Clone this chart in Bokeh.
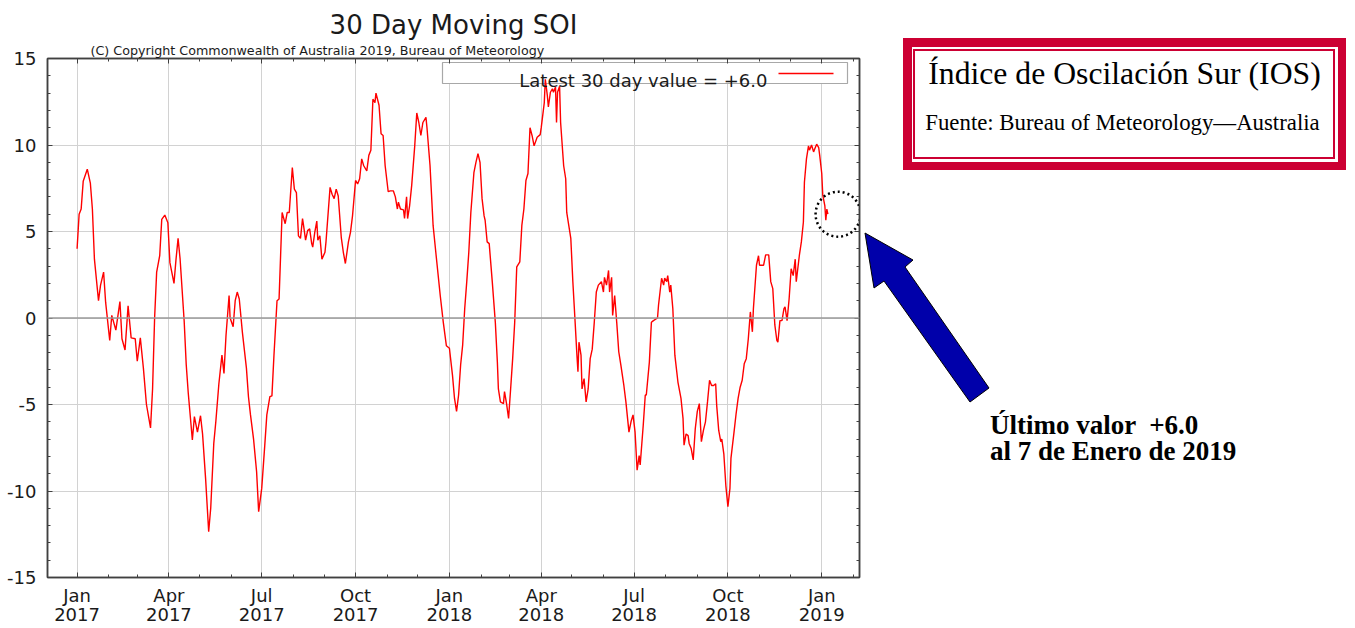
import pandas as pd
from bokeh.plotting import figure
from bokeh.layouts import row
from bokeh.models import Range1d, FixedTicker, LinearAxis, CustomJSTickFormatter, Span, Title, Div
from bokeh.core.properties import value
from bokeh.embed import file_html
from bokeh.resources import INLINE

# ---------------- data ----------------
series_start = "2017-01-01"
# day offsets from series_start
day_offset = [
    0, 2, 4, 6, 10, 13, 15, 17, 21, 23, 26, 28, 32, 34, 38, 42, 44, 47, 50, 53,
    57, 59, 62, 65, 68, 72, 74, 76, 78, 81, 83, 86, 89, 91, 95, 97, 99, 101, 105, 107,
    109, 113, 115, 118, 121, 123, 126, 129, 131, 134, 136, 139, 142, 144, 146, 149, 150, 153, 155, 157,
    159, 162, 166, 168, 170, 173, 176, 178, 181, 184, 186, 189, 191, 193, 196, 198, 201, 204, 206, 208,
    211, 213, 215, 217, 219, 221, 222, 224, 226, 228, 230, 231, 233, 235, 236, 238, 240, 243, 244, 248,
    250, 252, 254, 256, 259, 261, 263, 266, 268, 270, 273, 275, 277, 279, 281, 284, 286, 288, 290, 292,
    293, 296, 298, 300, 302, 305, 307, 310, 312, 314, 315, 317, 320, 321, 323, 324, 326, 328, 331, 333,
    335, 337, 339, 342, 343, 346, 349, 352, 356, 359, 362, 365, 368, 370, 372, 374, 376, 378, 380, 382,
    384, 386, 389, 391, 393, 395, 397, 399, 400, 402, 404, 407, 410, 412, 413, 415, 418, 419, 421, 423,
    425, 427, 429, 431, 434, 436, 438, 440, 442, 444, 446, 448, 451, 454, 455, 458, 459, 461, 462, 464,
    466, 467, 469, 470, 471, 473, 474, 477, 479, 480, 482, 484, 486, 488, 490, 491, 492, 494, 495, 497,
    499, 501, 503, 505, 507, 509, 511, 514, 516, 517, 519, 521, 522, 524, 525, 527, 529, 531, 533, 536,
    538, 541, 543, 545, 547, 549, 551, 552, 555, 557, 558, 561, 563, 565, 569, 570, 573, 575, 576, 578,
    579, 581, 582, 584, 586, 589, 592, 594, 595, 597, 599, 600, 602, 604, 606, 608, 610, 612, 614, 616,
    618, 620, 622, 624, 626, 627, 629, 631, 632, 634, 636, 638, 640, 641, 644, 646, 648, 650, 652, 654,
    656, 658, 660, 662, 663, 666, 668, 669, 672, 673, 675, 678, 680, 682, 684, 686, 687, 689, 691, 693,
    694, 696, 698, 700, 702, 704, 705, 708, 710, 712, 713, 715, 717, 718, 720, 722, 723, 725, 727, 728,
    730, 731, 733, 734, 735, 736,
]
soi_30day = [
    4.0, 6.0, 6.3, 7.9, 8.6, 7.8, 6.3, 3.4, 1.0, 1.9, 2.65, 0.9, -1.3, 0.15, -0.7, 0.95, -1.2, -1.85, 0.7, -1.15,
    -1.2, -2.5, -1.15, -2.9, -5.0, -6.35, -4.1, 0.0, 2.65, 3.6, 5.7, 5.95, 5.5, 3.2, 2.0, 3.4, 4.6, 3.4, -0.2, -2.7,
    -4.35, -7.05, -5.7, -6.6, -5.65, -6.7, -9.3, -12.35, -11.0, -7.25, -6.0, -3.8, -2.15, -3.2, -1.0, 1.3, 0.0, -0.5, 1.0, 1.5,
    1.1, -0.8, -2.9, -4.55, -5.6, -7.0, -8.9, -11.2, -9.85, -7.35, -5.6, -4.55, -4.5, -2.15, 1.0, 1.1, 6.1, 5.45, 6.1, 6.1,
    8.7, 7.45, 7.25, 4.75, 4.6, 5.75, 5.35, 4.5, 5.05, 5.15, 4.3, 4.1, 4.95, 5.6, 4.5, 4.75, 3.4, 3.8, 4.4, 7.55,
    7.15, 6.9, 7.45, 7.05, 4.65, 3.8, 3.15, 4.4, 4.95, 5.9, 7.95, 7.75, 8.05, 9.2, 8.8, 8.5, 9.4, 9.7, 12.65, 12.45,
    13.0, 12.3, 10.65, 10.55, 8.8, 7.3, 7.35, 7.35, 7.0, 6.3, 6.7, 6.3, 6.25, 5.75, 7.0, 5.75, 6.5, 7.65, 9.95, 11.85,
    11.3, 10.55, 11.3, 11.6, 11.0, 8.8, 5.35, 3.6, 1.3, -0.25, -1.6, -1.75, -3.3, -4.65, -5.4, -4.45, -2.7, -1.55, 0.55, 2.1,
    3.8, 6.1, 8.4, 9.0, 9.5, 9.0, 6.9, 5.9, 5.65, 4.4, 4.3, 2.1, -0.25, -2.55, -4.1, -4.85, -4.95, -4.25, -4.95, -5.8,
    -4.1, -2.35, -0.25, 2.95, 3.25, 5.35, 6.3, 7.95, 8.35, 11.0, 10.55, 9.95, 10.45, 10.6, 11.0, 12.45, 13.8, 12.85, 12.2, 13.05,
    13.25, 13.05, 13.35, 11.3, 13.05, 13.4, 11.3, 8.8, 8.05, 6.1, 5.35, 4.6, 2.1, 0.0, -2.15, -3.1, -1.4, -2.15, -4.1, -3.5,
    -4.85, -4.1, -2.35, -1.8, -0.25, 1.5, 1.9, 2.1, 1.5, 2.35, 1.9, 2.75, 1.5, 2.35, 0.15, 1.3, -0.25, -1.95, -2.7, -3.9,
    -4.85, -6.6, -6.0, -5.6, -6.6, -8.8, -7.95, -8.5, -6.2, -4.45, -4.45, -2.55, -0.25, -0.15, 0.0, 0.75, 2.3, 1.9, 2.3, 2.1,
    2.45, 1.5, 1.9, 0.55, -2.15, -3.7, -4.65, -5.8, -7.35, -6.7, -6.8, -7.25, -7.55, -8.2, -6.4, -5.4, -4.95, -7.15, -6.5, -6.0,
    -4.85, -3.6, -3.9, -3.9, -3.8, -5.05, -6.5, -7.15, -7.0, -7.85, -9.7, -10.9, -9.85, -8.1, -6.6, -5.55, -4.65, -4.0, -3.6, -2.65,
    -2.35, -1.2, 0.35, -0.8, 0.55, 3.05, 3.6, 3.05, 3.05, 3.05, 3.65, 3.65, 2.1, 1.7, -0.4, -1.3, -1.4, -0.15, -0.15, 0.55,
    0.65, -0.15, 1.1, 2.85, 2.45, 3.4, 2.1, 3.6, 4.4, 5.55, 7.85, 9.2, 9.95, 9.7, 10.0, 9.6, 9.75, 10.05, 9.85, 9.4,
    8.35, 7.1, 6.5, 5.65, 6.3, 6.0,
]

x_tick_dates = ["2017-01-01", "2017-04-01", "2017-07-01", "2017-10-01", "2018-01-01",
                "2018-04-01", "2018-07-01", "2018-10-01", "2019-01-01"]
x_tick_labels = ["Jan\n2017", "Apr\n2017", "Jul\n2017", "Oct\n2017", "Jan\n2018",
                 "Apr\n2018", "Jul\n2018", "Oct\n2018", "Jan\n2019"]
x_minor_months = pd.date_range("2016-12-01", "2019-02-01", freq="MS").strftime("%Y-%m-%d").tolist()
y_ticks = [-15, -10, -5, 0, 5, 10, 15]
y_tick_labels = ["-15", "-10", "-5", "0", "5", "10", "15"]
y_minor_ticks = list(range(-15, 16))

x_start, x_end = "2016-12-03", "2019-02-07"

chart_title = "30 Day Moving SOI"
copyright_text = "(C) Copyright Commonwealth of Australia 2019, Bureau of Meteorology"
box_title = "Índice de Oscilación Sur (IOS)"
box_source = "Fuente: Bureau of Meteorology\u2014Australia"
latest_date_text = "al 7 de Enero de 2019"

# ---------------- helpers ----------------
def ms(d):
    return int(pd.Timestamp(d).value // 10**6)

dates = pd.Timestamp(series_start) + pd.to_timedelta(day_offset, unit="D")
latest = soi_30day[-1]
legend_text = f"Latest 30 day value = {latest:+.1f}"

SANS = "DejaVu Sans"
SERIF = "Liberation Serif"
LINE_RED = "#ff0000"
BOX_RED = "#cc0033"
ARROW_BLUE = "#0000aa"
AX = "#404040"

FRAME_W, FRAME_H = 812, 519
PAGE_H = 628

# ---------------- main chart ----------------
p = figure(width=862, height=PAGE_H,
           x_range=Range1d(ms(x_start), ms(x_end)), y_range=Range1d(-15, 15),
           output_backend="svg", toolbar_location=None, title_location=None,
           min_border_left=47, min_border_right=3, min_border_top=58, min_border_bottom=51)
p.background_fill_color = "white"
p.border_fill_color = "white"
p.outline_line_color = AX
p.outline_line_width = 1.5

xt = FixedTicker(ticks=[ms(d) for d in x_tick_dates], minor_ticks=[ms(d) for d in x_minor_months])
yt = FixedTicker(ticks=y_ticks, minor_ticks=y_minor_ticks)

lookup = "const i = tv.indexOf(tick); return i >= 0 ? tl[i] : '';"
xfmt = CustomJSTickFormatter(args=dict(tv=[ms(d) for d in x_tick_dates], tl=x_tick_labels), code=lookup)
yfmt = CustomJSTickFormatter(args=dict(tv=y_ticks, tl=y_tick_labels), code=lookup)
blank = CustomJSTickFormatter(code="return '';")

xa = p.xaxis[0]
xa.ticker = xt
xa.formatter = xfmt
ya = p.yaxis[0]
ya.ticker = yt
ya.formatter = yfmt

top = LinearAxis(ticker=xt, formatter=blank)
right = LinearAxis(ticker=yt, formatter=blank)
p.add_layout(top, "above")
p.add_layout(right, "right")

for ax in (xa, ya, top, right):
    ax.axis_line_color = AX
    ax.axis_line_width = 1.5
    ax.major_tick_in = 5
    ax.major_tick_out = 0
    ax.minor_tick_in = 3
    ax.minor_tick_out = 0
    ax.major_tick_line_color = AX
    ax.minor_tick_line_color = AX
    ax.major_label_text_font = SANS
    ax.major_label_text_color = "#1a1a1a"
for ax in (top, right):
    ax.major_label_text_font_size = "0px"
    ax.major_label_standoff = 0
xa.major_label_text_font_size = "18px"
xa.major_label_text_line_height = 0.95
xa.major_label_standoff = 7
ya.major_label_text_font_size = "18px"
ya.major_label_standoff = 11

p.xgrid.ticker = xt
p.ygrid.ticker = yt
p.grid.grid_line_color = "#d2d2d2"
p.grid.grid_line_width = 1
p.add_layout(Span(location=0, dimension="width", line_color="#9a9a9a", line_width=1.5))

p.add_layout(Title(text=copyright_text, align="left", offset=43, standoff=2,
                   text_font=SANS, text_font_size="12.7px", text_font_style="normal",
                   text_color="#1a1a1a"), "above")
p.add_layout(Title(text=chart_title, align="center", standoff=0,
                   text_font=SANS, text_font_size="26px", text_font_style="normal",
                   text_color="#1a1a1a"), "above")

# pixel-like overlay range inside the frame, for the legend box
p.extra_x_ranges = {"px": Range1d(0, FRAME_W)}
p.extra_y_ranges = {"px": Range1d(FRAME_H, 0)}
p.quad(left=[395], right=[800], top=[4], bottom=[25], x_range_name="px", y_range_name="px",
       fill_color="white", line_color="#a8a8a8", line_width=1.2)

p.line(x=dates, y=soi_30day, line_color=LINE_RED, line_width=1.4)

p.text(x=[720], y=[22], text=[legend_text], x_range_name="px", y_range_name="px",
       text_align="right", text_baseline="alphabetic", text_font=value(SANS),
       text_font_size="18px", text_color="#1a1a1a")
p.line(x=[731, 786], y=[15, 15], x_range_name="px", y_range_name="px",
       line_color=LINE_RED, line_width=1.3)

# dotted circle around the latest value
p.scatter(x=[dates[-1] + pd.Timedelta(days=10)], y=[latest], size=45, marker="circle",
          fill_color=None, line_color="black", line_width=2.5, line_dash="2 3")

# ---------------- side panel (title box, arrow and note) ----------------
side_html = f"""
<div style="position:relative;width:493px;height:{PAGE_H}px;font-family:'{SERIF}';color:black;">
  <div style="position:absolute;left:41px;top:38px;width:443px;height:132px;background:{BOX_RED};"></div>
  <div style="position:absolute;left:49.5px;top:46.5px;width:426px;height:115px;background:white;"></div>
  <div style="position:absolute;left:51.4px;top:49.4px;width:421.8px;height:109.8px;box-sizing:border-box;border:2.3px solid {BOX_RED};"></div>
  <div style="position:absolute;left:41px;top:58px;width:443px;text-align:center;font-size:31.7px;line-height:31.7px;white-space:nowrap;">{box_title}</div>
  <div style="position:absolute;left:39px;top:112px;width:443px;text-align:center;font-size:22.8px;line-height:22.8px;white-space:nowrap;">{box_source}</div>
  <svg style="position:absolute;left:0;top:0;" width="493" height="{PAGE_H}">
    <polygon points="3,233 51,260 43,267 127,388 108,402 22,281 12,288"
             fill="{ARROW_BLUE}" stroke="black" stroke-width="1"/>
  </svg>
  <div style="position:absolute;left:128px;top:411.5px;font-size:27px;line-height:26px;font-weight:bold;white-space:pre;">Último valor  {latest:+.1f}
{latest_date_text}</div>
</div>
"""
side = Div(text=side_html, width=493, height=PAGE_H, margin=(0, 0, 0, 0))

layout = row(p, side)
open("out.html", "w").write(file_html(layout, INLINE))
